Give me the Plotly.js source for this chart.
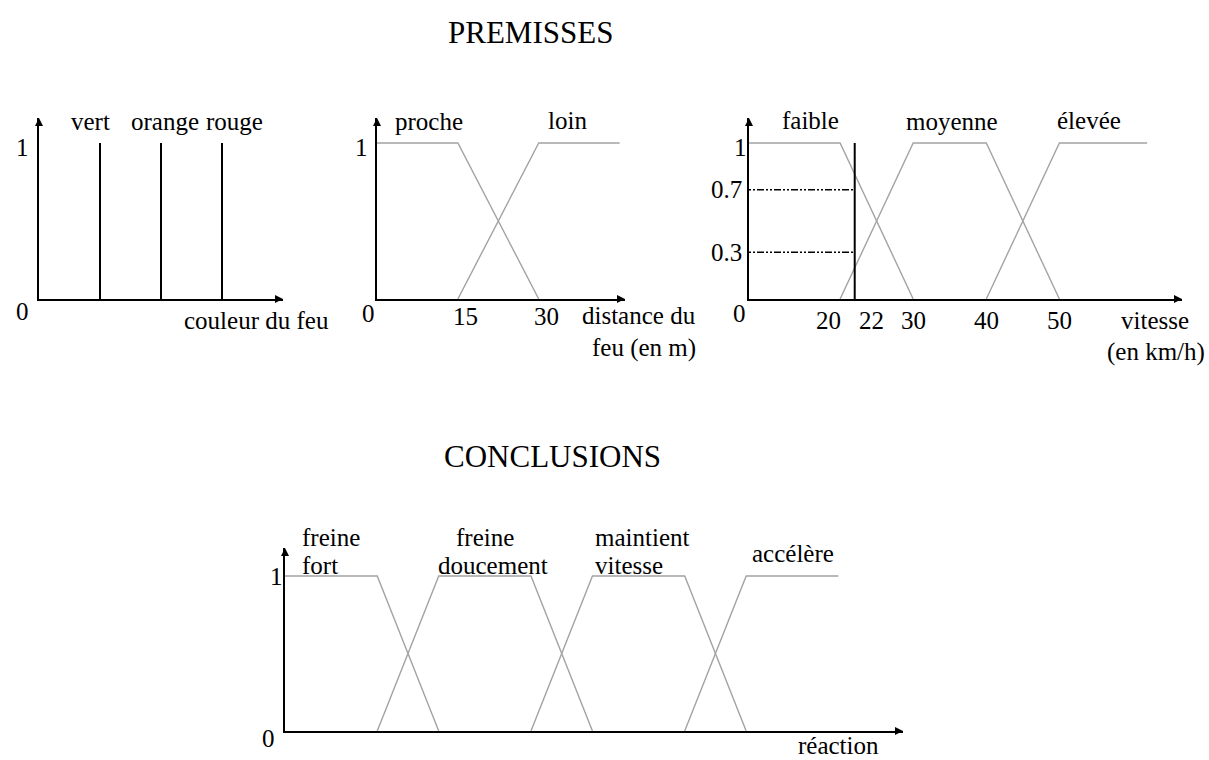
<!DOCTYPE html>
<html>
<head>
<meta charset="utf-8">
<script src="https://cdn.plot.ly/plotly-3.0.1.min.js"></script>
<style>
  html, body { margin: 0; padding: 0; background: #fff; }
  #chart { width: 1209px; height: 760px; }
</style>
</head>
<body>
<div id="chart"></div>
<script>
// ---------- Prémisses : couleur du feu (singletons) ----------
const couleurLabels = ['vert', 'orange', 'rouge'];
const couleurX = [1, 2, 3];
const couleurDegre = [1, 1, 1];

// ---------- Prémisses : distance du feu (en m) ----------
const procheX = [0, 15, 30];
const procheY = [1, 1, 0];
const loinX = [15, 30, 45];
const loinY = [0, 1, 1];
const distanceTicks = [15, 30];

// ---------- Prémisses : vitesse (en km/h) ----------
const faibleX = [0, 20, 30];
const faibleY = [1, 1, 0];
const moyenneX = [20, 30, 40, 50];
const moyenneY = [0, 1, 1, 0];
const eleveeX = [40, 50, 62];
const eleveeY = [0, 1, 1];
const vitesseTicks = [20, 22, 30, 40, 50];
const vitesseMesuree = 22;
const degresMesure = [0.7, 0.3];

// ---------- Conclusions : réaction ----------
const freineFortX = [0, 3, 5];
const freineFortY = [1, 1, 0];
const freineDouxX = [3, 5, 8, 10];
const freineDouxY = [0, 1, 1, 0];
const maintientX = [8, 10, 13, 15];
const maintientY = [0, 1, 1, 0];
const accelereX = [13, 15, 18];
const accelereY = [0, 1, 1];

// ---------- Mise en page ----------
const W = 1209, H = 760;
const px = v => v / W;          // pixel -> paper (horizontal)
const py = v => 1 - v / H;      // pixel -> paper (vertical)
const SERIF = "'Liberation Serif', 'Times New Roman', serif";
const GRIS = '#a3a3a3';
const NOIR = '#000';

const X_RANGE = { x: [0, 4], x2: [0, 46], x3: [7.54, 66.77], x4: [0, 20.1] };
const Y_RANGE = { y: [0, 1.16], y2: [0, 1.16], y3: [0, 1.16], y4: [0, 1.181] };

function axe(domain, range, anchor) {
  return {
    domain, range, anchor,
    showline: true, linewidth: 2, linecolor: NOIR,
    showgrid: false, zeroline: false, showticklabels: false,
    ticks: '', fixedrange: true
  };
}

function courbe(x, y, xa, ya, couleur, largeur, dash) {
  return {
    type: 'scatter', mode: 'lines', x, y, xaxis: xa, yaxis: ya,
    line: { color: couleur, width: largeur, dash: dash || 'solid' },
    hoverinfo: 'skip', showlegend: false
  };
}

// segments verticaux des singletons
const singX = [], singY = [];
couleurX.forEach((c, i) => { singX.push(c, c, null); singY.push(0, couleurDegre[i], null); });

const traces = [
  courbe(singX, singY, 'x', 'y', NOIR, 2),
  courbe(procheX, procheY, 'x2', 'y2', GRIS, 1.4),
  courbe(loinX, loinY, 'x2', 'y2', GRIS, 1.4),
  courbe(faibleX, faibleY, 'x3', 'y3', GRIS, 1.4),
  courbe(moyenneX, moyenneY, 'x3', 'y3', GRIS, 1.4),
  courbe(eleveeX, eleveeY, 'x3', 'y3', GRIS, 1.4),
  courbe([vitesseMesuree, vitesseMesuree], [0, 1], 'x3', 'y3', NOIR, 2),
  courbe(freineFortX, freineFortY, 'x4', 'y4', GRIS, 1.4),
  courbe(freineDouxX, freineDouxY, 'x4', 'y4', GRIS, 1.4),
  courbe(maintientX, maintientY, 'x4', 'y4', GRIS, 1.4),
  courbe(accelereX, accelereY, 'x4', 'y4', GRIS, 1.4)
];
// degrés d'appartenance lus à la vitesse mesurée
degresMesure.forEach(d => {
  traces.push(courbe([X_RANGE.x3[0], vitesseMesuree], [d, d], 'x3', 'y3', NOIR, 1.5,
                     '2px,2px,2px,2px,7px,2px'));
});

// ---------- Textes ----------
function texte(t, x, y, opts) {
  return Object.assign({
    xref: 'paper', yref: 'paper', x: px(x), y: py(y), text: t,
    showarrow: false, xanchor: 'center', yanchor: 'middle',
    font: { family: SERIF, size: 25, color: NOIR }
  }, opts || {});
}

function fleches(xa, ya) {
  const xr = X_RANGE[xa], yr = Y_RANGE[ya];
  const base = {
    xref: xa, yref: ya, text: '', showarrow: true,
    arrowhead: 2, arrowsize: 1, arrowwidth: 1.6, arrowcolor: NOIR, standoff: 0
  };
  return [
    Object.assign({ x: xr[1], y: 0, ax: -9, ay: 0 }, base),
    Object.assign({ x: xr[0], y: yr[1], ax: 0, ay: 9 }, base)
  ];
}

const annotations = [
  texte('PREMISSES', 530, 33, { font: { family: SERIF, size: 31, color: NOIR } }),
  texte('CONCLUSIONS', 552, 456, { font: { family: SERIF, size: 31, color: NOIR } }),

  // couleur du feu
  texte('vert', 90, 122),
  texte('orange', 165, 122),
  texte('rouge', 234, 122),
  texte('1', 22, 148),
  texte('0', 22, 312),
  texte('couleur du feu', 256, 321),

  // distance du feu
  texte('proche', 429, 121),
  texte('loin', 567, 120),
  texte('1', 361, 148),
  texte('0', 368, 313),
  texte('distance du', 698, 316, { xanchor: 'right' }),
  texte('feu (en m)', 698, 348, { xanchor: 'right' }),

  // vitesse
  texte('faible', 810, 120),
  texte('moyenne', 952, 122),
  texte('élevée', 1089, 120),
  texte('1', 740, 148),
  texte('0', 739, 313),
  texte('vitesse', 1155, 320),
  texte('(en km/h)', 1156, 352),

  // réaction
  texte('freine', 300, 537, { xanchor: 'left' }),
  texte('fort', 300, 565, { xanchor: 'left' }),
  texte('freine', 485, 537),
  texte('doucement', 493, 565),
  texte('maintient', 593, 537, { xanchor: 'left' }),
  texte('vitesse', 593, 565, { xanchor: 'left' }),
  texte('accélère', 793, 553),
  texte('1', 276, 576),
  texte('0', 268, 738),
  texte('réaction', 838, 745)
];

// graduations de la distance
distanceTicks.forEach(t => {
  annotations.push({
    xref: 'x2', yref: 'y2', x: t, y: 0, yshift: -17, xshift: 8,
    text: String(t), showarrow: false, xanchor: 'center', yanchor: 'middle',
    font: { family: SERIF, size: 25, color: NOIR }
  });
});

// graduations de la vitesse (20 et 22 écartés pour rester lisibles)
vitesseTicks.forEach(t => {
  let xanchor = 'center', xshift = 0;
  if (t === 20) { xanchor = 'right'; xshift = 3; }
  if (t === vitesseMesuree) { xanchor = 'left'; xshift = 2; }
  annotations.push({
    xref: 'x3', yref: 'y3', x: t, y: 0, yshift: -21, xshift,
    text: String(t), showarrow: false, xanchor, yanchor: 'middle',
    font: { family: SERIF, size: 25, color: NOIR }
  });
});

// degrés sur l'axe vertical des vitesses
degresMesure.forEach(d => {
  annotations.push({
    xref: 'x3 domain', yref: 'y3', x: 0, y: d, xshift: -5,
    text: String(d), showarrow: false, xanchor: 'right', yanchor: 'middle',
    font: { family: SERIF, size: 25, color: NOIR }
  });
});

['x', 'x2', 'x3', 'x4'].forEach((xa, i) => {
  annotations.push(...fleches(xa, ['y', 'y2', 'y3', 'y4'][i]));
});

const layout = {
  width: W, height: H,
  margin: { l: 0, r: 0, t: 0, b: 0, pad: 0 },
  paper_bgcolor: '#fff', plot_bgcolor: 'rgba(0,0,0,0)',
  showlegend: false,
  font: { family: SERIF, color: NOIR },
  xaxis: axe([px(39), px(283)], X_RANGE.x, 'y'),
  yaxis: axe([py(299), py(118)], Y_RANGE.y, 'x'),
  xaxis2: axe([px(377), px(625)], X_RANGE.x2, 'y2'),
  yaxis2: axe([py(299), py(118)], Y_RANGE.y2, 'x2'),
  xaxis3: axe([px(749), px(1182)], X_RANGE.x3, 'y3'),
  yaxis3: axe([py(299), py(118)], Y_RANGE.y3, 'x3'),
  xaxis4: axe([px(285), px(903)], X_RANGE.x4, 'y4'),
  yaxis4: axe([py(731), py(548)], Y_RANGE.y4, 'x4'),
  annotations
};

Plotly.newPlot('chart', traces, layout, { staticPlot: true, displayModeBar: false });
</script>
</body>
</html>
